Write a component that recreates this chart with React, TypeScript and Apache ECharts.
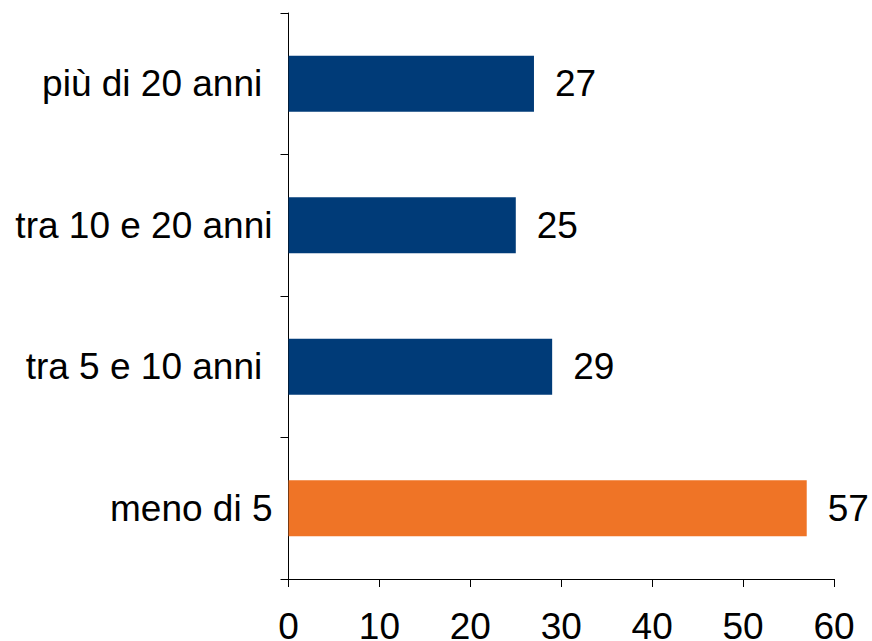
import React, { useEffect, useRef } from "react";
import * as echarts from "echarts";

const categories = ["più di 20 anni ", "tra 10 e 20 anni", "tra 5 e 10 anni ", "meno di 5"];
const values = [27, 25, 29, 57];
const barColors = ["#003B78", "#003B78", "#003B78", "#EF7426"];
const xTicks = [0, 10, 20, 30, 40, 50, 60];

export default function App() {
  const ref = useRef<HTMLDivElement>(null);
  useEffect(() => {
    if (!ref.current) return;
    const chart = echarts.init(ref.current, null, { renderer: "svg" });
    const font = "Arial, 'Liberation Sans', sans-serif";
    chart.setOption({
      animation: false,
      grid: {
        left: 288.5,
        right: 38,
        top: 13,
        bottom: 62,
        containLabel: false,
        outerBoundsMode: "none",
      },
      xAxis: {
        type: "value",
        min: xTicks[0],
        max: xTicks[xTicks.length - 1],
        interval: 10,
        splitLine: { show: false },
        axisLine: { show: true, lineStyle: { color: "#000", width: 1 } },
        axisTick: { show: true, length: 8, lineStyle: { color: "#000", width: 1 } },
        axisLabel: { color: "#000", fontSize: 37, fontFamily: font, margin: 29 },
      },
      yAxis: {
        type: "category",
        data: categories,
        inverse: true,
        axisLine: { show: true, lineStyle: { color: "#000", width: 1 } },
        axisTick: { show: true, length: 8, lineStyle: { color: "#000", width: 1 } },
        axisLabel: { color: "#000", fontSize: 37, fontFamily: font, margin: 16 },
      },
      series: [
        {
          type: "bar",
          barWidth: "39.5%",
          data: values.map((v, i) => ({ value: v, itemStyle: { color: barColors[i] } })),
          label: {
            show: true,
            position: "right",
            distance: 21,
            color: "#000",
            fontSize: 37,
            fontFamily: font,
          },
        },
      ],
    });
    return () => chart.dispose();
  }, []);
  return (
    <div style={{ position: "fixed", left: 0, top: 0, width: 872, height: 641, overflow: "hidden", background: "#fff" }}>
      <div ref={ref} style={{ width: 872, height: 641 }} />
    </div>
  );
}
